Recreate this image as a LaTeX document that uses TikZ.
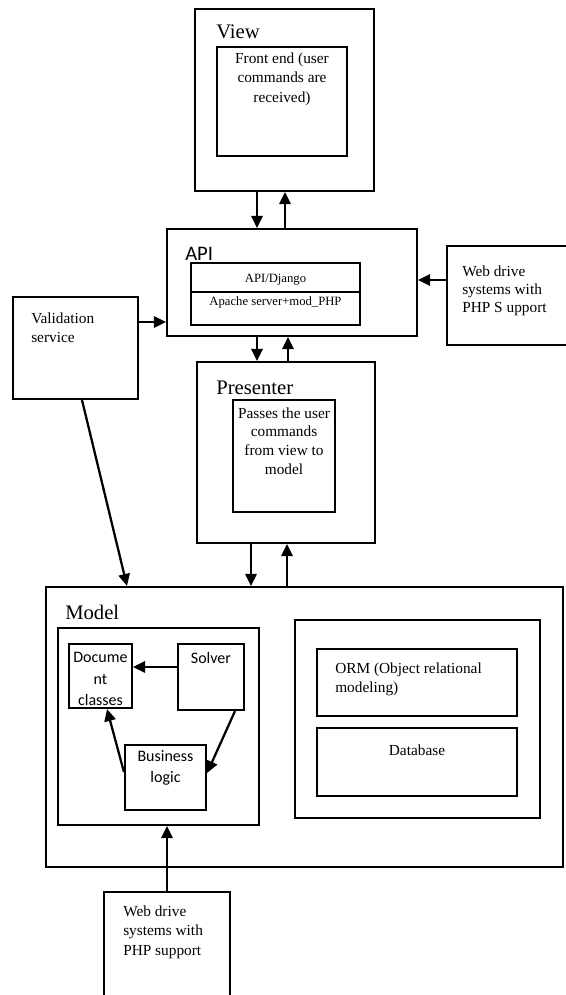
\documentclass[tikz,border=0pt]{standalone}
\usepackage{fontspec}
\setmainfont{Liberation Serif}
\newfontfamily\calib{Carlito}
\usetikzlibrary{arrows.meta,fit}
\begin{document}
\begin{tikzpicture}[x=0.75pt,y=-0.75pt,
  box/.style={draw, line width=1.6pt, inner sep=0pt},
  arr/.style={line width=1.7pt, -{Triangle[length=9pt,width=8.5pt]}},
  txt/.style={font=\fontsize{11.5}{14.5}\selectfont, align=center, inner sep=0pt},
  smalltxt/.style={font=\fontsize{9.5}{11}\selectfont, inner sep=0pt},
  sanstxt/.style={font=\calib\fontsize{12}{16}\selectfont, align=center, inner sep=0pt},
  title/.style={font=\fontsize{15.5}{18}\selectfont, anchor=base west, inner sep=0pt}]
\useasboundingbox (0,0) rectangle (566,995);

% boxes
\node[box, fit={(195,9)(374,191)}] (view) {};
\node[box, fit={(217,47)(347,156)}] (viewin) {};
\node[box, fit={(167,229)(417,336)}] (api) {};
\node[box, fit={(191,263)(360,325)}] (apiin) {};
\draw[line width=1.3pt] (apiin.west |- 0,292) -- (apiin.east |- 0,292);
\node[box, fit={(447,246)(572,345)}] (web1) {};
\node[box, fit={(13,297)(138,399)}] (val) {};
\node[box, fit={(197,362)(375,543)}] (pres) {};
\node[box, fit={(233,400)(335,512)}] (presin) {};
\node[box, fit={(46,587)(563,867)}] (model) {};
\node[box, fit={(58,628)(259,825)}] (leftin) {};
\node[box, fit={(69,644)(132,708)}] (doc) {};
\node[box, fit={(178,644)(244,710)}] (solver) {};
\node[box, fit={(125,745)(206,810)}] (biz) {};
\node[box, fit={(295,620)(540,818)}] (rightin) {};
\node[box, fit={(317,649)(517,716)}] (orm) {};
\node[box, fit={(317,728)(517,796)}] (db) {};
\node[box, fit={(104,892)(230,1002)}] (web2) {};

% titles
\node[title] (tview) at (216,39) {View};
\node[title, font=\calib\fontsize{15.5}{18}\selectfont] (tapi) at (185,260) {API};
\node[title] (tpres) at (216,394) {Presenter};
\node[title] (tmodel) at (65,619) {Model};

% texts
\node[txt] (tfront) at (282,79) {Front end (user\\commands are\\received)};
\node[smalltxt] (tdj) at (275.5,280) {API/Django};
\node[smalltxt] (tap) at (275.5,302) {Apache server+mod\_PHP};
\node[txt, font=\fontsize{11.5}{13.5}\selectfont, align=left, anchor=west] (tweb1) at (462,291) {Web drive\\systems with\\PHP S upport};
\node[txt, align=left, anchor=west] (tval) at (31,328) {Validation\\service};
\node[txt, font=\fontsize{11.5}{14}\selectfont] (tpass) at (284,441) {Passes the user\\commands\\from view to\\model};
\node[sanstxt] (tdoc) at (100.5,679) {Docume\\nt\\classes};
\node[sanstxt] (tsolver) at (211,658) {Solver};
\node[sanstxt] (tbiz) at (165.5,768) {Business\\logic};
\node[txt, align=left, anchor=west] (torm) at (335,679.5) {ORM (Object relational\\modeling)};
\node[txt] (tdb) at (417,750) {Database};
\node[txt, align=left, anchor=west] (tweb2) at (123,932) {Web drive\\systems with\\PHP support};

% connectors
\draw[arr] (view.south -| 257,0) -- (api.north -| 257,0);
\draw[arr] (api.north -| 285,0) -- (view.south -| 285,0);
\draw[arr] (api.south -| 257,0) -- (pres.north -| 257,0);
\draw[arr] (pres.north -| 288,0) -- (api.south -| 288,0);
\draw[arr] (pres.south -| 251,0) -- (model.north -| 251,0);
\draw[arr] (model.north -| 287,0) -- (pres.south -| 287,0);
\draw[arr] (web1.west |- 0,280) -- (api.east |- 0,280);
\draw[arr] (val.east |- 0,322) -- (api.west |- 0,322);
\draw[arr] (val.south -| 82,0) -- (model.north -| 127,0);
\draw[arr] (solver.west |- 0,667) -- (doc.east |- 0,667);
\draw[arr] (solver.south -| 235,0) -- (biz.east |- 0,773);
\draw[arr] (biz.west |- 0,772) -- (doc.south -| 107,0);
\draw[arr] (web2.north -| 167,0) -- (leftin.south -| 167,0);
\end{tikzpicture}
\end{document}
